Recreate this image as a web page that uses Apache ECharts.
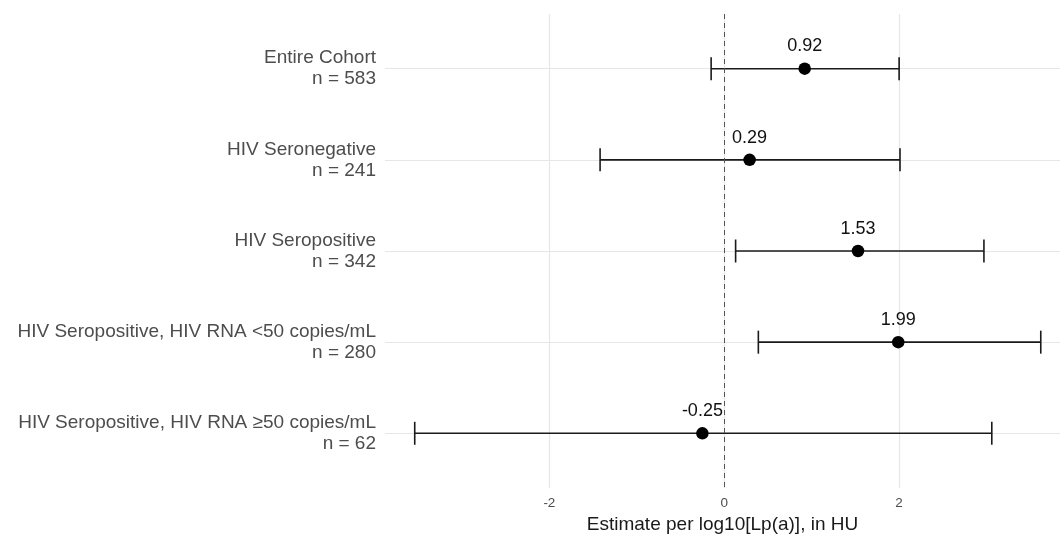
<!DOCTYPE html>
<html>
<head>
<meta charset="utf-8">
<script src="https://cdn.jsdelivr.net/npm/echarts@6/dist/echarts.min.js"></script>
<style>
  html, body { margin: 0; padding: 0; background: #fff; }
  #main { width: 1060px; height: 536px; }
</style>
</head>
<body>
<div id="main"></div>
<script>
var groups = [
  'Entire Cohort',
  'HIV Seronegative',
  'HIV Seropositive',
  'HIV Seropositive, HIV RNA <50 copies/mL',
  'HIV Seropositive, HIV RNA \u226550 copies/mL'
];
var sampleSizes = [583, 241, 342, 280, 62];
var estimates = [0.92, 0.29, 1.53, 1.99, -0.25];
var lowerCI = [-0.15, -1.42, 0.13, 0.39, -3.54];
var upperCI = [2.0, 2.01, 2.97, 3.62, 3.06];
var xTicks = [-2, 0, 2];
var rowPos = [1, 2, 3, 4, 5];

var chart = echarts.init(document.getElementById('main'));

var barData = rowPos.map(function (r, i) {
  return [r, lowerCI[i], upperCI[i]];
});
var pointData = rowPos.map(function (r, i) {
  return [estimates[i], r];
});

function renderBar(params, api) {
  var y = api.value(0);
  var a = api.coord([api.value(1), y]);
  var b = api.coord([api.value(2), y]);
  var h = 11.5;
  var style = { stroke: '#1a1a1a', lineWidth: 1.6 };
  return {
    type: 'group',
    children: [
      { type: 'line', shape: { x1: a[0], y1: a[1], x2: b[0], y2: b[1] }, style: style },
      { type: 'line', shape: { x1: a[0], y1: a[1] - h, x2: a[0], y2: a[1] + h }, style: style },
      { type: 'line', shape: { x1: b[0], y1: b[1] - h, x2: b[0], y2: b[1] + h }, style: style }
    ]
  };
}

var option = {
  animation: false,
  textStyle: { fontFamily: 'Liberation Sans, Arial, sans-serif' },
  grid: { left: 385, right: 0, top: 14, bottom: 48, outerBoundsMode: 'none', containLabel: false },
  xAxis: {
    type: 'value',
    min: -3.88,
    max: 3.84,
    name: 'Estimate per log10[Lp(a)], in HU',
    nameLocation: 'middle',
    nameGap: 25,
    nameTextStyle: { fontSize: 19, color: '#1a1a1a' },
    axisLine: { show: false },
    axisTick: { show: false, customValues: xTicks },
    axisLabel: { customValues: xTicks, fontSize: 13.5, color: '#4d4d4d', margin: 8 },
    splitLine: { show: true, lineStyle: { color: '#e6e6e6', width: 1.2 } }
  },
  yAxis: {
    type: 'value',
    inverse: true,
    min: 0.4,
    max: 5.6,
    axisLine: { show: false },
    axisTick: { show: false, customValues: rowPos },
    axisLabel: {
      customValues: rowPos,
      margin: 9,
      fontSize: 19,
      lineHeight: 21,
      color: '#4d4d4d',
      align: 'right',
      formatter: function (v) {
        var i = Math.round(v) - 1;
        return groups[i] + '\nn = ' + sampleSizes[i];
      }
    },
    splitLine: { show: true, lineStyle: { color: '#e6e6e6', width: 1.2 } }
  },
  series: [
    {
      type: 'custom',
      renderItem: renderBar,
      data: barData,
      encode: { x: [1, 2], y: 0 },
      z: 3,
      markLine: {
        silent: true,
        symbol: 'none',
        label: { show: false },
        lineStyle: { color: '#555', type: [5, 4], width: 1 },
        data: [{ xAxis: 0 }]
      }
    },
    {
      type: 'scatter',
      data: pointData,
      symbolSize: 12.5,
      itemStyle: { color: '#000', opacity: 1 },
      z: 4,
      label: {
        show: true,
        position: 'top',
        distance: 7,
        fontSize: 18,
        color: '#111',
        formatter: function (p) { return p.value[0].toFixed(2); }
      }
    }
  ]
};

chart.setOption(option);
</script>
</body>
</html>
